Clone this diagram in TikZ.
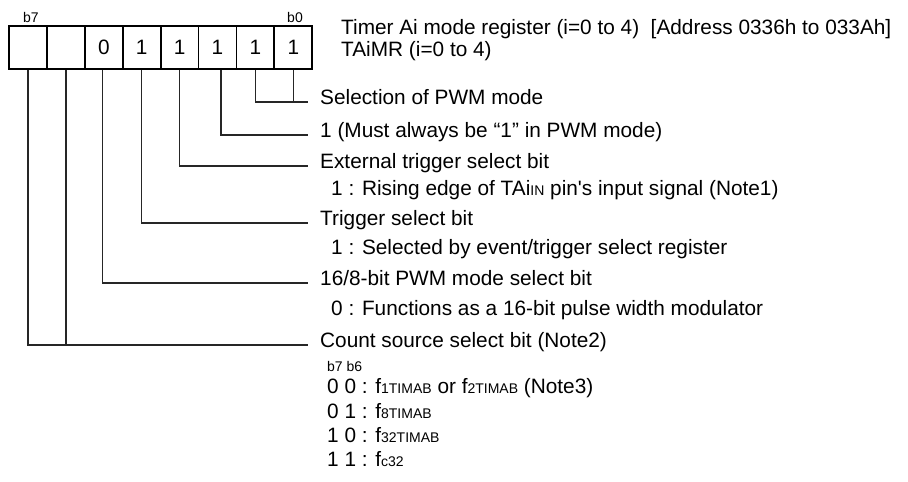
\documentclass[tikz,border=0pt]{standalone}
\usepackage{fontspec}
\setmainfont{Liberation Sans}[Ligatures=TeXOff]
\newcommand\smtxt[1]{{\fontsize{14}{16}\selectfont #1}}
\begin{document}
\begin{tikzpicture}[x=1pt,y=-1pt,
  cell/.style={draw, line width=1.8pt, minimum width=37.9pt, minimum height=43pt, inner sep=0pt, font=\fontsize{20.8}{24}\selectfont},
  head/.style={anchor=mid west, inner xsep=12pt, inner ysep=0pt, font=\fontsize{20.8}{24}\selectfont},
  sub/.style={anchor=mid west, inner sep=0pt, font=\fontsize{20.8}{24}\selectfont},
  bitlbl/.style={inner sep=0pt, font=\fontsize{14}{16}\selectfont},
  conn/.style={line width=1.3pt, draw=black!85}]
\useasboundingbox (0,0) rectangle (908,482);
% register cells
\node[cell] (c7) at (28.0,47.5) {};
\node[cell] (c6) at (65.9,47.5) {};
\node[cell] (c5) at (103.8,47.5) {0};
\node[cell] (c4) at (141.7,47.5) {1};
\node[cell] (c3) at (179.6,47.5) {1};
\node[cell] (c2) at (217.5,47.5) {1};
\node[cell] (c1) at (255.4,47.5) {1};
\node[cell] (c0) at (293.3,47.5) {1};
\node[bitlbl] (lb7) at (31,17) {b7};
\node[bitlbl] (lb0) at (295,17) {b0};
% title
\node[sub] (title1) at (341,32) {Timer Ai mode register (i=0 to 4)\ \ [Address 0336h to 033Ah]};
\node[sub] (title2) at (341,54) {TAiMR (i=0 to 4)};
% field descriptions
\node[head] (tsel) at (308,102) {Selection of PWM mode};
\node[head] (tmust) at (308,135) {1 (Must always be “1” in PWM mode)};
\node[head] (text) at (308,166) {External trigger select bit};
\node[sub] (trise) at (331,193) {1 : Rising edge of TAi\smtxt{IN} pin's input signal (Note1)};
\node[head] (ttrg) at (308,223) {Trigger select bit};
\node[sub] (tselr) at (331,252) {1 : Selected by event/trigger select register};
\node[head] (t168) at (308,283) {16/8-bit PWM mode select bit};
\node[sub] (tfun) at (331,313) {0 : Functions as a 16-bit pulse width modulator};
\node[head] (tcnt) at (308,345) {Count source select bit (Note2)};
\node[bitlbl, anchor=mid west] (tb76) at (327,369) {b7 b6};
\node[sub] (t00) at (327,391) {0 0 : f\smtxt{1TIMAB} or f\smtxt{2TIMAB} (Note3)};
\node[sub] (t01) at (327,416) {0 1 : f\smtxt{8TIMAB}};
\node[sub] (t10) at (327,440) {1 0 : f\smtxt{32TIMAB}};
\node[sub] (t11) at (327,464) {1 1 : f\smtxt{c32}};
% connectors
\draw[conn] (c1.south) |- (tsel.mid west);
\draw[conn] (c0.south) -- (c0.south |- tsel.mid west);
\draw[conn] ([xshift=3.5pt]c2.south) |- (tmust.mid west);
\draw[conn] (c3.south) |- (text.mid west);
\draw[conn] (c4.south) |- (ttrg.mid west);
\draw[conn] ([xshift=-1.5pt]c5.south) |- (t168.mid west);
\draw[conn] (c7.south) |- (tcnt.mid west);
\draw[conn] (c6.south) -- (c6.south |- tcnt.mid west);
\end{tikzpicture}
\end{document}
